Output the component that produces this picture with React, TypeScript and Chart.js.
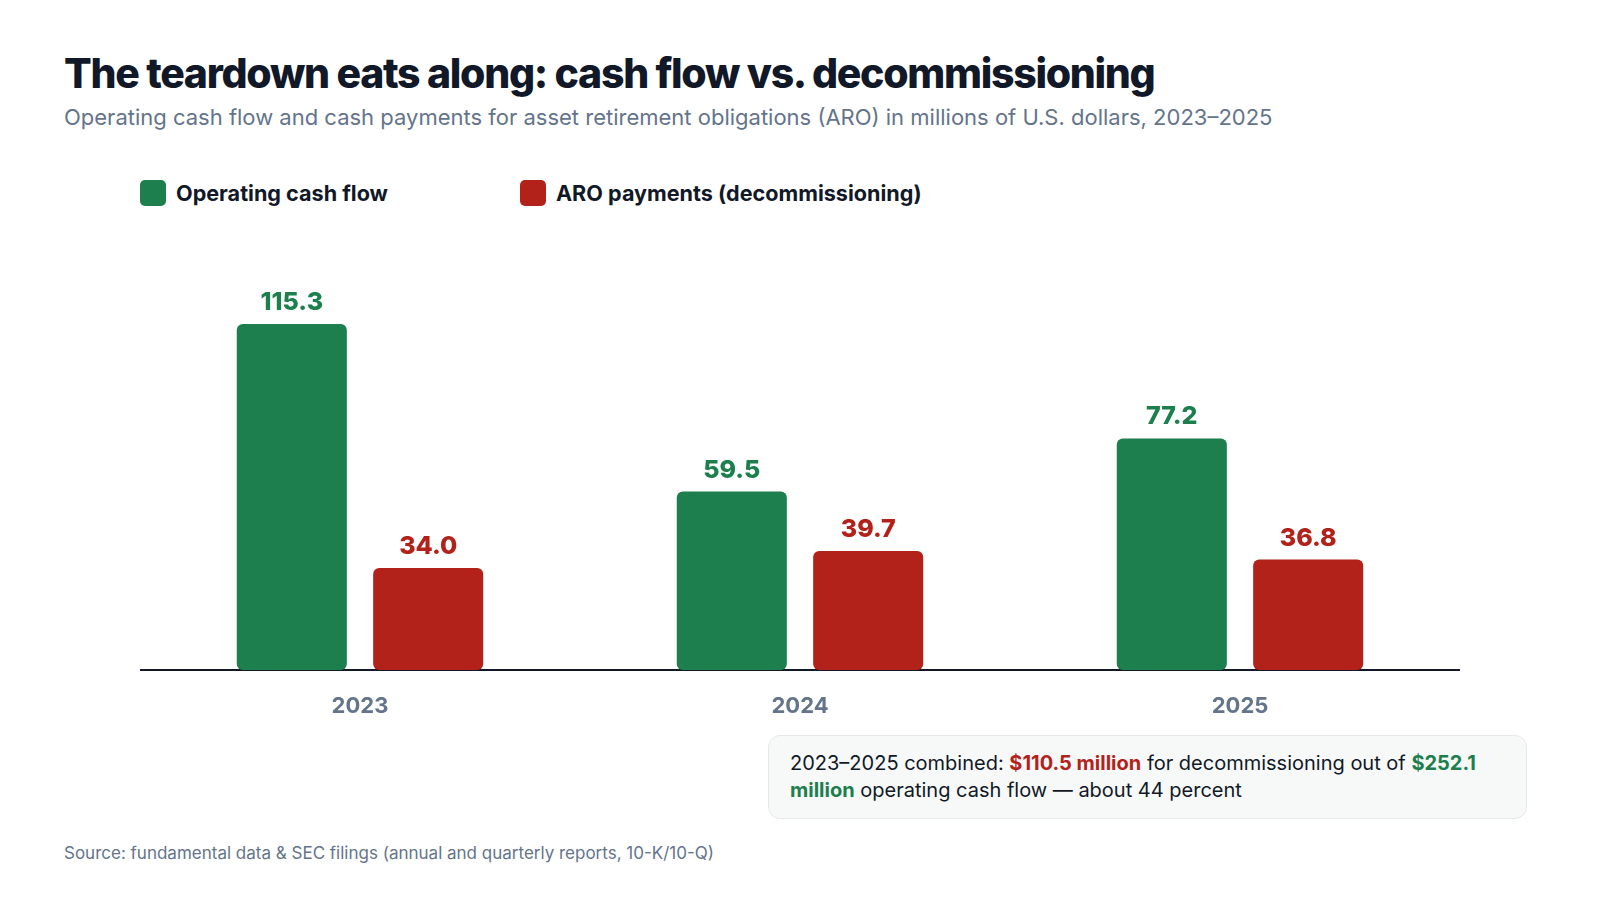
import React, { useEffect, useRef } from "react";
import { Chart, registerables } from "chart.js";
import type { Plugin } from "chart.js";

Chart.register(...registerables);

const years = ["2023", "2024", "2025"];
const operatingCashFlow = [115.3, 59.5, 77.2];
const aroPayments = [34.0, 39.7, 36.8];
const seriesNames = ["Operating cash flow", "ARO payments (decommissioning)"];

const GREEN = "#1c7f4d";
const RED = "#b3221a";
const INK = "#111827";
const MUTED = "#64748b";
const FONT = "Inter, 'Noto Sans', sans-serif";

// value labels above each bar
const valueLabels: Plugin<"bar"> = {
  id: "valueLabels",
  afterDatasetsDraw(chart) {
    const ctx = chart.ctx;
    ctx.save();
    ctx.font = `800 25px ${FONT}`;
    ctx.textAlign = "center";
    ctx.textBaseline = "alphabetic";
    chart.data.datasets.forEach((ds, i) => {
      const meta = chart.getDatasetMeta(i);
      ctx.fillStyle = ds.backgroundColor as string;
      meta.data.forEach((bar, j) => {
        const v = ds.data[j] as number;
        ctx.fillText(v.toFixed(1), bar.x, bar.y - 14);
      });
    });
    ctx.restore();
  },
};

const BarChart: React.FC = () => {
  const canvasRef = useRef<HTMLCanvasElement>(null);

  useEffect(() => {
    const ctx = canvasRef.current?.getContext("2d");
    if (!ctx) return;

    const chart = new Chart(ctx, {
      type: "bar",
      data: {
        labels: years,
        datasets: [
          {
            label: seriesNames[0],
            data: operatingCashFlow,
            backgroundColor: GREEN,
            borderRadius: 6,
            borderSkipped: false,
          },
          {
            label: seriesNames[1],
            data: aroPayments,
            backgroundColor: RED,
            borderRadius: 6,
            borderSkipped: false,
          },
        ],
      },
      options: {
        animation: false,
        responsive: false,
        maintainAspectRatio: false,
        categoryPercentage: 0.62,
        barPercentage: 0.807,
        layout: { padding: { top: 40, left: 0, right: 0, bottom: 0 } },
        plugins: {
          legend: { display: false },
          tooltip: { enabled: false },
        },
        scales: {
          x: {
            grid: { display: false, drawTicks: false },
            border: { display: true, color: INK, width: 2 },
            ticks: {
              color: MUTED,
              padding: 23,
              font: { family: FONT, size: 22, weight: 700 },
            },
            afterFit(scale) {
              scale.height = 70;
            },
          },
          y: {
            display: false,
            min: 0,
            max: 130,
          },
        },
      },
      plugins: [valueLabels],
    });

    return () => {
      chart.destroy();
    };
  }, []);

  return (
    <canvas
      ref={canvasRef}
      width={1320}
      height={500}
      style={{ position: "absolute", left: 140, top: 240, width: 1320, height: 500 }}
    />
  );
};

const LegendItem: React.FC<{ color: string; label: string; left: number }> = ({
  color,
  label,
  left,
}) => (
  <div
    style={{
      position: "absolute",
      left,
      top: 180,
      height: 26,
      display: "flex",
      alignItems: "center",
      gap: 10,
    }}
  >
    <span style={{ width: 26, height: 26, borderRadius: 5, background: color, display: "inline-block" }} />
    <span style={{ fontSize: 21.6, lineHeight: "22px", fontWeight: 700, color: INK }}>{label}</span>
  </div>
);

export default function App() {
  return (
    <div
      style={{
        position: "absolute",
        left: 0,
        top: 0,
        width: 1600,
        height: 900,
        background: "#ffffff",
        fontFamily: FONT,
        overflow: "hidden",
      }}
    >
      <div
        style={{
          position: "absolute",
          left: 64,
          top: 53,
          fontSize: 41,
          lineHeight: "41px",
          fontWeight: 800,
          color: INK,
          letterSpacing: -1.3,
          whiteSpace: "nowrap",
        }}
      >
        The teardown eats along: cash flow vs. decommissioning
      </div>
      <div
        style={{
          position: "absolute",
          left: 64,
          top: 106,
          fontSize: 22,
          lineHeight: "22px",
          color: MUTED,
          whiteSpace: "nowrap",
        }}
      >
        Operating cash flow and cash payments for asset retirement obligations (ARO) in millions of U.S. dollars, 2023–2025
      </div>

      <LegendItem color={GREEN} label={seriesNames[0]} left={140} />
      <LegendItem color={RED} label={seriesNames[1]} left={520} />

      <BarChart />

      <div
        style={{
          position: "absolute",
          left: 768,
          top: 735,
          width: 759,
          height: 84,
          boxSizing: "border-box",
          border: "1px solid #e5e7eb",
          borderRadius: 12,
          background: "#f7f9f9",
          padding: "14px 21px",
          fontSize: 20,
          lineHeight: "27px",
          color: INK,
        }}
      >
        2023–2025 combined: <b style={{ color: RED }}>$110.5 million</b> for decommissioning out of{" "}
        <b style={{ color: GREEN }}>$252.1 million</b> operating cash flow — about 44 percent
      </div>

      <div
        style={{
          position: "absolute",
          left: 64,
          top: 845,
          fontSize: 17,
          lineHeight: "17px",
          color: MUTED,
          whiteSpace: "nowrap",
        }}
      >
        Source: fundamental data &amp; SEC filings (annual and quarterly reports, 10-K/10-Q)
      </div>
    </div>
  );
}
